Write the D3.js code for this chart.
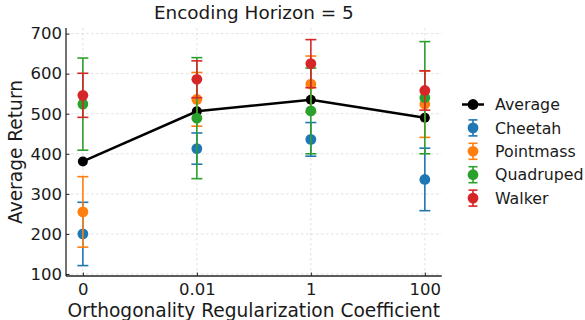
<!DOCTYPE html>
<html>
<head>
<meta charset="utf-8">
<title>Encoding Horizon = 5</title>
<script src="https://d3js.org/d3.v7.min.js"></script>
<style>
    body { margin: 0; background: #fff; }
    svg { display: block; font-family: "DejaVu Sans", sans-serif; }
    .grid line { stroke: #d9d9d9; stroke-width: 0.8; stroke-dasharray: 2.5, 2.5; }
</style>
</head>
<body>
<svg id="chart" width="585" height="320"></svg>
<script>
    // 数据：横轴类别与各任务的均值、误差
    const categories = ["0", "0.01", "1", "100"];
    const yTicks = [100, 200, 300, 400, 500, 600, 700];

    const averageMean = [381, 506, 535, 490];

    const cheetahMean = [200, 413, 436, 336];
    const cheetahErr = [79, 39, 42, 78];
    const pointmassMean = [255, 536, 574, 524];
    const pointmassErr = [88, 67, 70, 83];
    const quadrupedMean = [524, 489, 507, 540];
    const quadrupedErr = [115, 151, 107, 140];
    const walkerMean = [546, 586, 625, 558];
    const walkerErr = [55, 46, 60, 49];

    const seriesNames = ["Cheetah", "Pointmass", "Quadruped", "Walker"];
    const seriesColors = ["#1f77b4", "#ff7f0e", "#2ca02c", "#d62728"];
    const seriesMeans = [cheetahMean, pointmassMean, quadrupedMean, walkerMean];
    const seriesErrs = [cheetahErr, pointmassErr, quadrupedErr, walkerErr];

    const plotLeft = 66, plotRight = 441.7, plotTop = 28, plotBottom = 276;

    const svg = d3.select("#chart");

    const x = d3.scalePoint()
        .domain(categories)
        .range([plotLeft, plotRight])
        .padding(0.148);

    const y = d3.scaleLinear()
        .domain([95, 714])
        .range([plotBottom, plotTop]);

    // 网格线
    const grid = svg.append("g").attr("class", "grid");
    grid.selectAll("line.h")
        .data(yTicks)
        .join("line")
        .attr("class", "h")
        .attr("x1", plotLeft).attr("x2", plotRight)
        .attr("y1", d => y(d)).attr("y2", d => y(d));
    grid.selectAll("line.v")
        .data(categories)
        .join("line")
        .attr("class", "v")
        .attr("x1", d => x(d)).attr("x2", d => x(d))
        .attr("y1", plotTop).attr("y2", plotBottom);

    // 坐标轴（刻度朝内）
    const yAxis = svg.append("g")
        .attr("transform", `translate(${plotLeft},0)`)
        .call(d3.axisLeft(y).tickValues(yTicks).tickSizeInner(-3.5).tickSizeOuter(0).tickPadding(4));
    const xAxis = svg.append("g")
        .attr("transform", `translate(0,${plotBottom})`)
        .call(d3.axisBottom(x).tickSizeInner(-3.5).tickSizeOuter(0).tickPadding(7.5));

    [yAxis, xAxis].forEach(a => {
        a.select(".domain").attr("stroke", "#262626").attr("stroke-width", 1.3);
        a.selectAll(".tick line").attr("stroke", "#262626").attr("stroke-width", 1);
        a.selectAll(".tick text")
            .attr("fill", "#1a1a1a")
            .style("font-size", "16.5px")
            .style("font-family", "DejaVu Sans");
    });
    yAxis.select(".domain").attr("d", `M0,${plotTop}V${plotBottom}`);
    xAxis.select(".domain").attr("d", `M${plotLeft},0H${plotRight}`);

    // 平均线
    const line = d3.line()
        .x((d, i) => x(categories[i]))
        .y(d => y(d));

    svg.append("path")
        .datum(averageMean)
        .attr("d", line)
        .attr("fill", "none")
        .attr("stroke", "black")
        .attr("stroke-width", 2.5);

    svg.append("g")
        .selectAll("circle")
        .data(averageMean)
        .join("circle")
        .attr("cx", (d, i) => x(categories[i]))
        .attr("cy", d => y(d))
        .attr("r", 5)
        .attr("fill", "black");

    // 每个任务的误差棒
    const capW = 5.5;
    seriesNames.forEach((name, s) => {
        const g = svg.append("g");
        const color = seriesColors[s];
        const pts = seriesMeans[s].map((m, i) => ({c: categories[i], m: m, e: seriesErrs[s][i]}));

        g.selectAll("line.bar")
            .data(pts)
            .join("line")
            .attr("class", "bar")
            .attr("x1", d => x(d.c)).attr("x2", d => x(d.c))
            .attr("y1", d => y(d.m - d.e)).attr("y2", d => y(d.m + d.e))
            .attr("stroke", color).attr("stroke-width", 1.6);

        ["lo", "hi"].forEach(k => {
            g.selectAll("line.cap" + k)
                .data(pts)
                .join("line")
                .attr("class", "cap" + k)
                .attr("x1", d => x(d.c) - capW).attr("x2", d => x(d.c) + capW)
                .attr("y1", d => y(k === "lo" ? d.m - d.e : d.m + d.e))
                .attr("y2", d => y(k === "lo" ? d.m - d.e : d.m + d.e))
                .attr("stroke", color).attr("stroke-width", 1.6);
        });

        g.selectAll("circle")
            .data(pts)
            .join("circle")
            .attr("cx", d => x(d.c))
            .attr("cy", d => y(d.m))
            .attr("r", 5.4)
            .attr("fill", color);
    });

    // 标题与轴标题
    svg.append("text")
        .attr("x", (plotLeft + plotRight) / 2)
        .attr("y", 18.5)
        .attr("text-anchor", "middle")
        .style("font-size", "18.4px")
        .attr("fill", "#1a1a1a")
        .text("Encoding Horizon = 5");

    svg.append("text")
        .attr("x", (plotLeft + plotRight) / 2)
        .attr("y", 317)
        .attr("text-anchor", "middle")
        .style("font-size", "18.6px")
        .attr("fill", "#1a1a1a")
        .text("Orthogonality Regularization Coefficient");

    svg.append("text")
        .attr("transform", `translate(22,${(plotTop + plotBottom) / 2}) rotate(-90)`)
        .attr("text-anchor", "middle")
        .style("font-size", "18.6px")
        .attr("fill", "#1a1a1a")
        .text("Average Return");

    // 图例
    const legendItems = ["Average"].concat(seriesNames);
    const legendColors = ["black"].concat(seriesColors);
    const legend = svg.append("g").attr("transform", "translate(473,104.5)");
    const rows = legend.selectAll("g")
        .data(legendItems)
        .join("g")
        .attr("transform", (d, i) => `translate(0,${i * 23.4})`);

    rows.filter((d, i) => i === 0)
        .append("line")
        .attr("x1", -11).attr("x2", 11)
        .attr("stroke", "black").attr("stroke-width", 2.5);

    rows.filter((d, i) => i > 0).each(function (d, i) {
        const c = seriesColors[i];
        const r = d3.select(this);
        r.append("line").attr("y1", -8).attr("y2", 8)
            .attr("stroke", c).attr("stroke-width", 1.6);
        r.append("line").attr("x1", -4.5).attr("x2", 4.5).attr("y1", -8).attr("y2", -8)
            .attr("stroke", c).attr("stroke-width", 1.6);
        r.append("line").attr("x1", -4.5).attr("x2", 4.5).attr("y1", 8).attr("y2", 8)
            .attr("stroke", c).attr("stroke-width", 1.6);
    });

    rows.append("circle")
        .attr("r", 5.4)
        .attr("fill", (d, i) => legendColors[i]);

    rows.append("text")
        .attr("x", 22)
        .attr("dy", "0.36em")
        .style("font-size", "15.8px")
        .attr("fill", "#1a1a1a")
        .text(d => d);
</script>
</body>
</html>
